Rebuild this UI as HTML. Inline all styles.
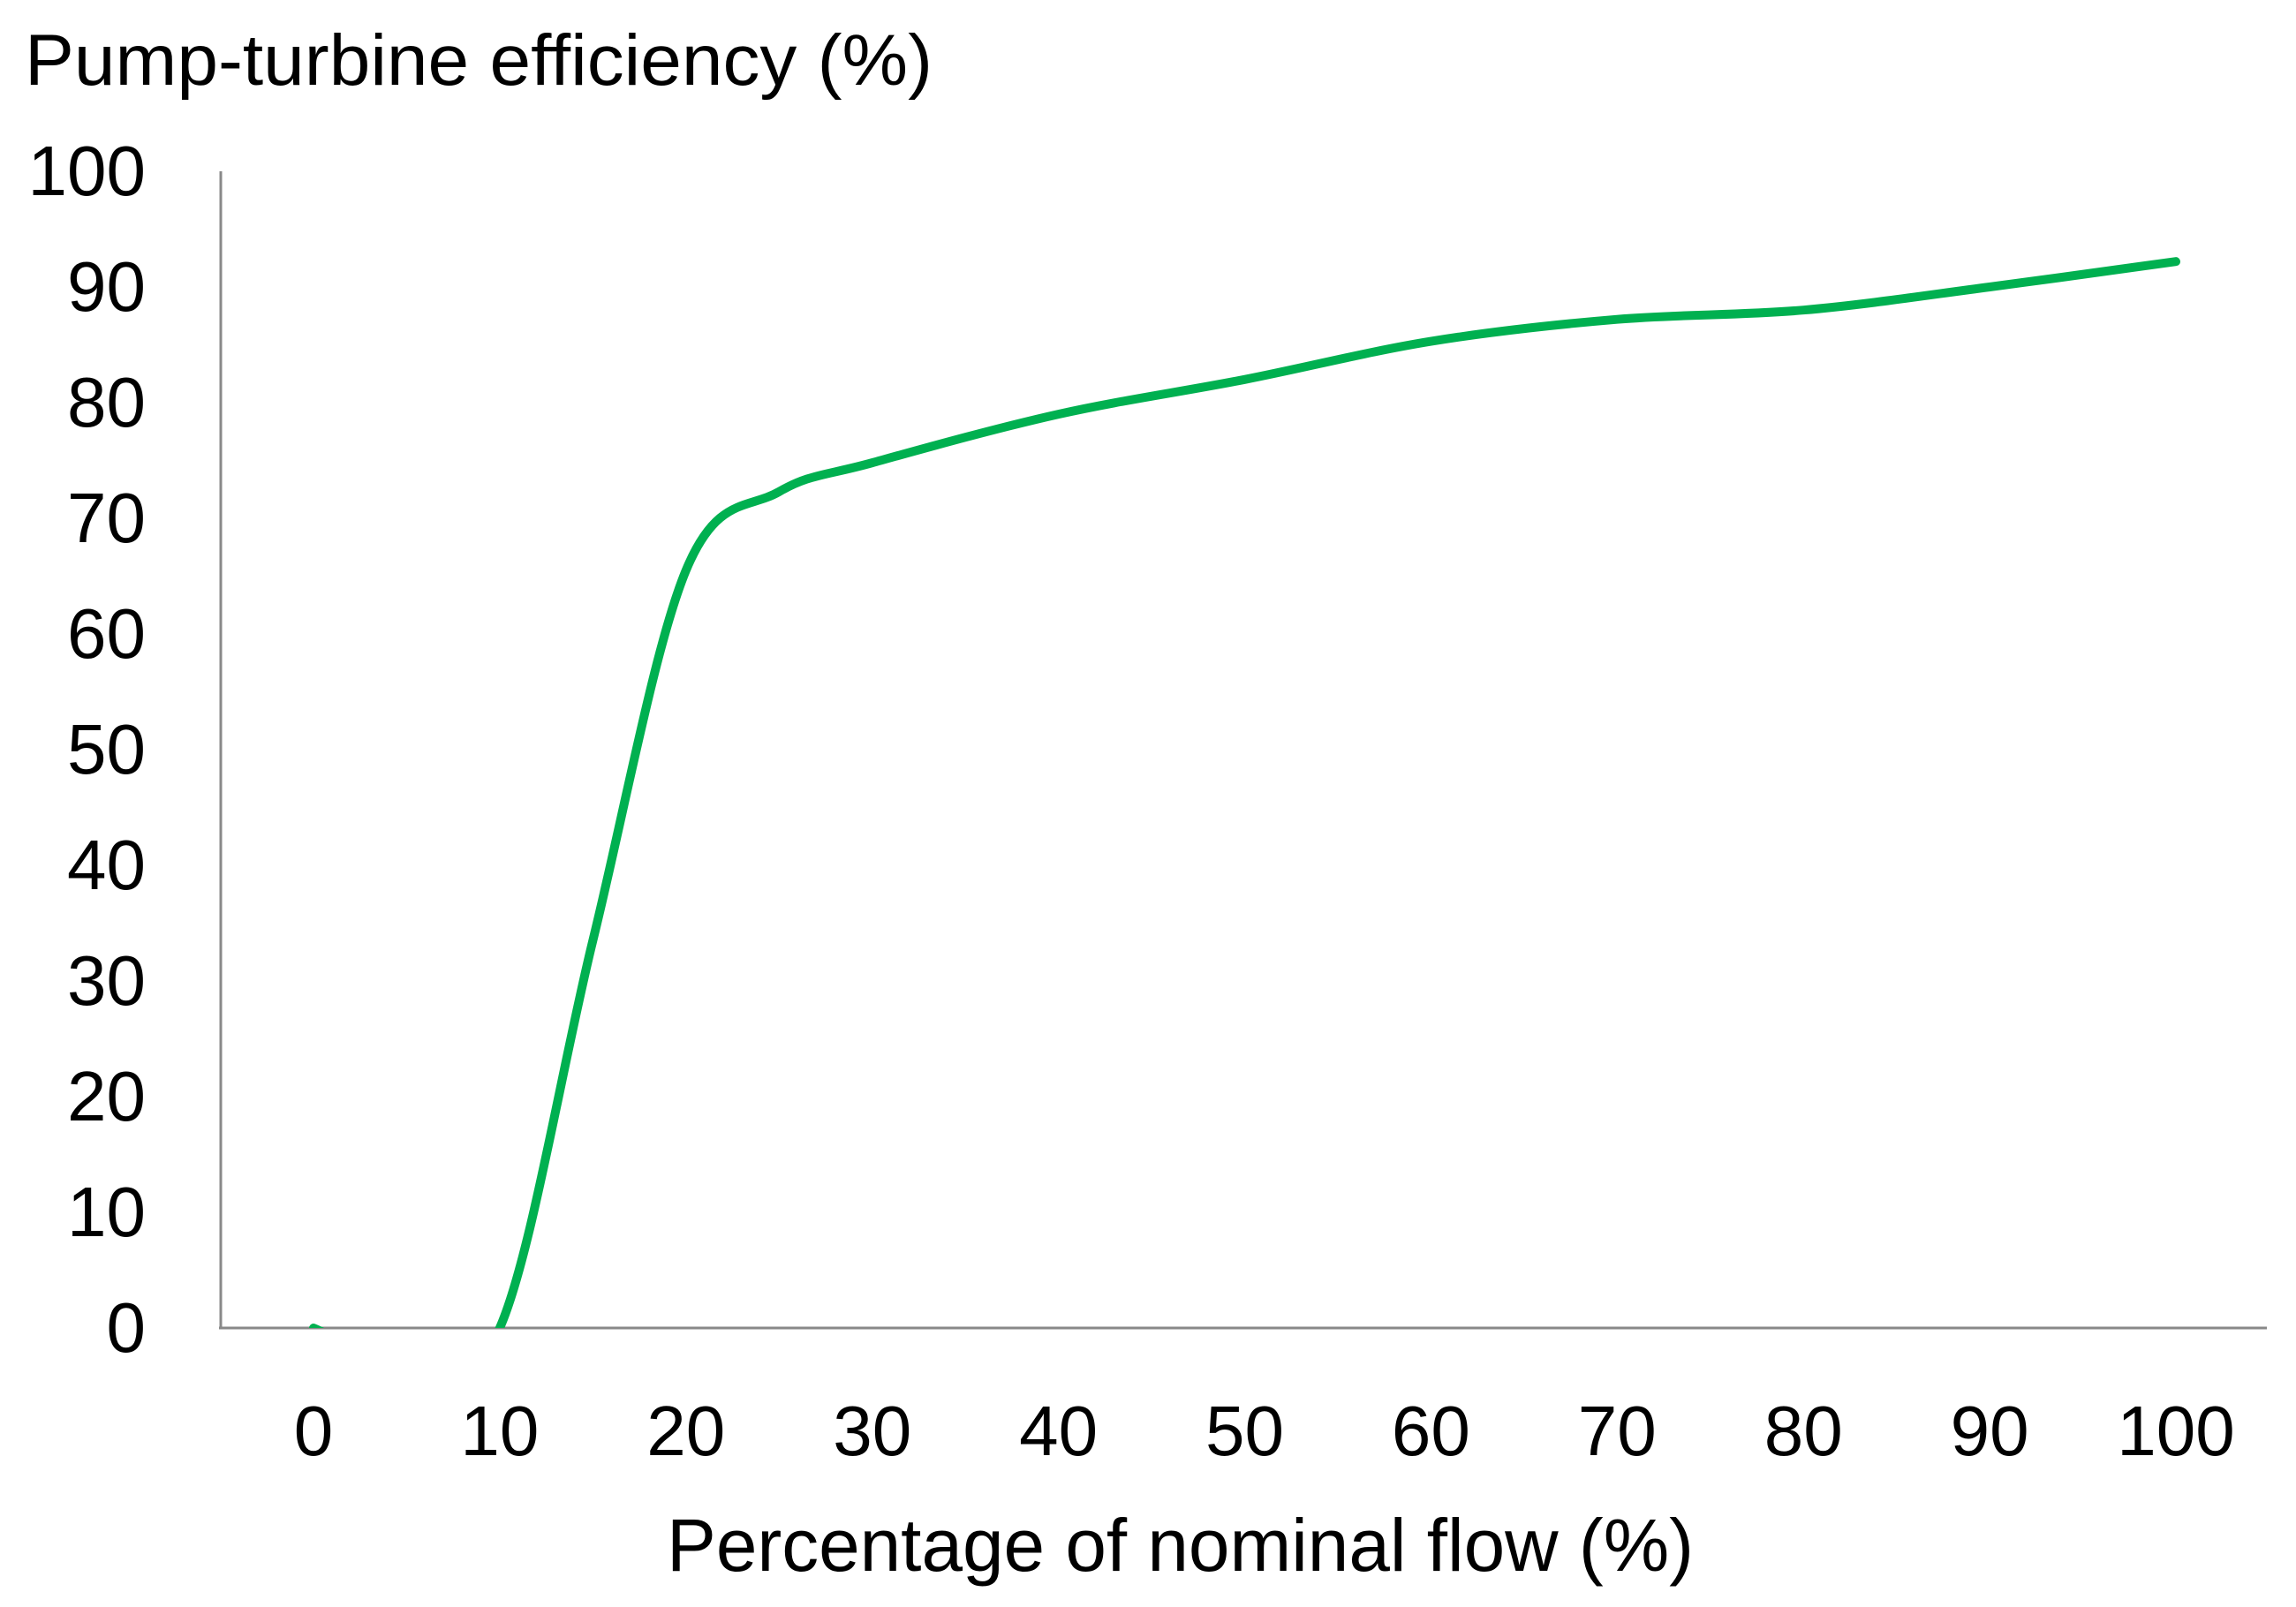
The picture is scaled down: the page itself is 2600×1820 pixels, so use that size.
<!DOCTYPE html>
<html><head><meta charset="utf-8"><style>html,body{margin:0;padding:0;background:#fff}svg{display:block}text{font-family:"Liberation Sans",sans-serif;fill:#000}</style></head>
<body>
<svg id="chart" width="2600" height="1820" viewBox="0 0 2600 1820">
<defs><clipPath id="plotclip"><rect x="250" y="150" width="2320" height="1354"/></clipPath></defs>
<text x="28" y="96" font-size="82" textLength="1028" lengthAdjust="spacingAndGlyphs">Pump-turbine efficiency (%)</text>
<text x="755" y="1779" font-size="84" textLength="1163" lengthAdjust="spacingAndGlyphs">Percentage of nominal flow (%)</text>
<g id="yticks"></g><g id="xticks"></g>
<line x1="250" y1="194" x2="250" y2="1504" stroke="#898989" stroke-width="3"/>
<line x1="248" y1="1504" x2="2567" y2="1504" stroke="#898989" stroke-width="3"/>
<path id="series" fill="none" stroke="#00b050" stroke-width="10" stroke-linecap="round" clip-path="url(#plotclip)"/>
</svg>
<script>
const flowValues = [0, 5, 10, 15, 20, 25, 30, 40, 50, 60, 70, 80, 90, 100];
const efficiencyValues = [0, -3, 0, 33.5, 65.5, 72.3, 74.8, 79, 82, 85.3, 87.2, 88, 90, 92.2];
const xTickLabels = [0, 10, 20, 30, 40, 50, 60, 70, 80, 90, 100];
const yTickLabels = [0, 10, 20, 30, 40, 50, 60, 70, 80, 90, 100];
const ns = "http://www.w3.org/2000/svg";
function xScale(v){ return 355 + v * 21.09; }
function yScale(v){ return 1504 - v * 13.1; }
const yg = document.getElementById('yticks');
yTickLabels.forEach(v => {
  const t = document.createElementNS(ns, 'text');
  
  
  t.setAttribute('x', 165); t.setAttribute('y', yScale(v) + 27);
  t.setAttribute('font-size', '80'); t.setAttribute('text-anchor', 'end');
  t.textContent = v; yg.appendChild(t);
});
const xg = document.getElementById('xticks');
xTickLabels.forEach(v => {
  const t = document.createElementNS(ns, 'text');
  
  
  t.setAttribute('x', xScale(v)); t.setAttribute('y', 1648);
  t.setAttribute('font-size', '80'); t.setAttribute('text-anchor', 'middle');
  t.textContent = v; xg.appendChild(t);
});
const pts = flowValues.map((f, i) => [xScale(f), yScale(efficiencyValues[i])]);
let d = 'M' + pts[0][0] + ',' + pts[0][1];
for (let i = 0; i < pts.length - 1; i++) {
  const p0 = pts[i-1] || pts[i], p1 = pts[i], p2 = pts[i+1], p3 = pts[i+2] || pts[i+1];
  const c1 = [p1[0] + (p2[0]-p0[0])/6, p1[1] + (p2[1]-p0[1])/6];
  const c2 = [p2[0] - (p3[0]-p1[0])/6, p2[1] - (p3[1]-p1[1])/6];
  d += ' C' + c1.join(',') + ' ' + c2.join(',') + ' ' + p2.join(',');
}
document.getElementById('series').setAttribute('d', d);
</script>
</body></html>
